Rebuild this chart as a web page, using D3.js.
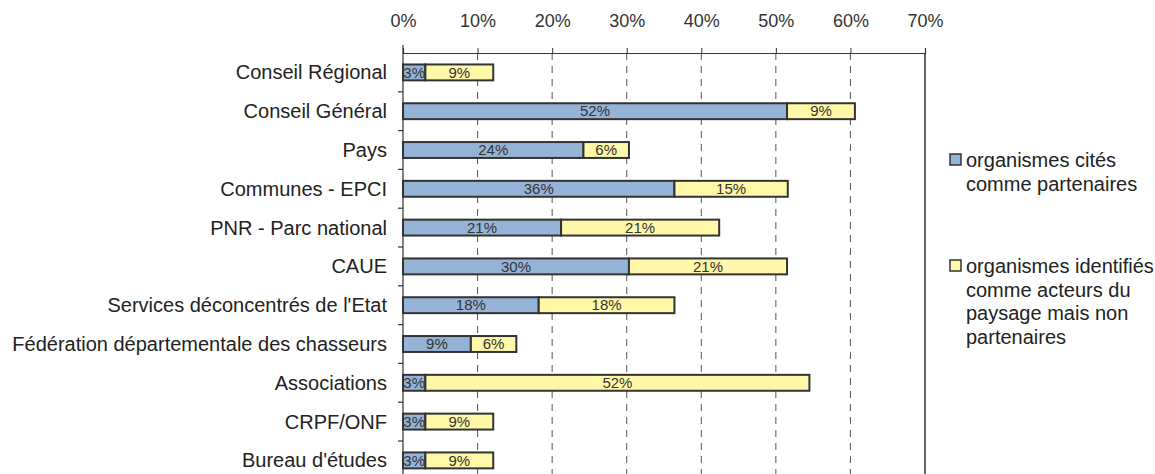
<!DOCTYPE html>
<html>
<head>
<meta charset="utf-8">
<script src="https://cdn.jsdelivr.net/npm/d3@7"></script>
<style>
  html, body { margin: 0; padding: 0; background: #fff; }
  svg { display: block; font-family: "Liberation Sans", Arial, sans-serif; }
</style>
</head>
<body>
<svg id="chart" width="1155" height="474"></svg>
<script>
const categories = [
  "Conseil Régional",
  "Conseil Général",
  "Pays",
  "Communes - EPCI",
  "PNR - Parc national",
  "CAUE",
  "Services déconcentrés de l'Etat",
  "Fédération départementale des chasseurs",
  "Associations",
  "CRPF/ONF",
  "Bureau d'études"
];
const partenaires = [3.0, 51.5, 24.2, 36.4, 21.2, 30.3, 18.2, 9.1, 3.0, 3.0, 3.0];
const nonPartenaires = [9.1, 9.1, 6.1, 15.2, 21.2, 21.2, 18.2, 6.1, 51.5, 9.1, 9.1];
const seriesNames = [
  ["organismes cités", "comme partenaires"],
  ["organismes identifiés", "comme acteurs du", "paysage mais non", "partenaires"]
];
const tickValues = [0, 10, 20, 30, 40, 50, 60, 70];
const colors = ["#95b3d7", "#fff8a8"];

const svg = d3.select("#chart");
const x = d3.scaleLinear().domain([0, 70]).range([403, 925]);
const y = d3.scaleBand().domain(categories).range([53, 53 + 11 * 38.8]).paddingInner(0.59).paddingOuter(0.295);
const plotTop = 53, plotBottom = 474;

// gridlines
svg.append("g").selectAll("line").data(tickValues.filter(v => v > 0 && v < 70)).join("line")
  .attr("x1", d => x(d)).attr("x2", d => x(d))
  .attr("y1", plotTop).attr("y2", plotBottom)
  .attr("stroke", "#555").attr("stroke-width", 1)
  .attr("stroke-dasharray", "7,6");

// right border
svg.append("line").attr("x1", x(70)).attr("x2", x(70)).attr("y1", plotTop).attr("y2", plotBottom)
  .attr("stroke", "#333").attr("stroke-width", 1.5);

// top axis
const xAxis = d3.axisTop(x).tickValues(tickValues).tickFormat(d => d + "%").tickSize(5).tickPadding(21);
const gx = svg.append("g").attr("transform", `translate(0,${plotTop})`).call(xAxis);
gx.select(".domain").attr("stroke", "#333").attr("stroke-width", 1.2);
gx.selectAll(".tick line").attr("stroke", "#333");
gx.selectAll(".tick text").attr("font-size", 18).attr("fill", "#333")
  .attr("font-family", "Liberation Sans, Arial, sans-serif");

// left axis
const yBounds = categories.map((c, i) => y(c) - y.step() * y.paddingInner() / 2);
svg.append("line").attr("x1", x(0)).attr("x2", x(0)).attr("y1", plotTop - 8).attr("y2", plotBottom)
  .attr("stroke", "#333").attr("stroke-width", 1.2);
svg.append("g").selectAll("line").data(yBounds.slice(1).concat([yBounds[10] + y.step()])).join("line")
  .attr("x1", x(0) - 5).attr("x2", x(0)).attr("y1", d => d).attr("y2", d => d)
  .attr("stroke", "#333").attr("stroke-width", 1.2);

svg.append("g").selectAll("text").data(categories).join("text")
  .attr("x", 387).attr("y", d => y(d) + y.bandwidth() / 2)
  .attr("dy", "0.35em").attr("text-anchor", "end")
  .attr("font-size", 20).attr("fill", "#222").text(d => d);

// bars
const stacked = categories.map((c, i) => [
  { cat: c, s: 0, x0: 0, x1: partenaires[i], v: partenaires[i] },
  { cat: c, s: 1, x0: partenaires[i], x1: partenaires[i] + nonPartenaires[i], v: nonPartenaires[i] }
]).flat();

svg.append("g").selectAll("rect").data(stacked).join("rect")
  .attr("x", d => x(d.x0)).attr("width", d => x(d.x1) - x(d.x0))
  .attr("y", d => y(d.cat)).attr("height", y.bandwidth())
  .attr("fill", d => colors[d.s]).attr("stroke", "#333").attr("stroke-width", 2);

svg.append("g").selectAll("text").data(stacked).join("text")
  .attr("x", d => (x(d.x0) + x(d.x1)) / 2).attr("y", d => y(d.cat) + y.bandwidth() / 2)
  .attr("dy", "0.35em").attr("text-anchor", "middle")
  .attr("font-size", 15).attr("fill", "#333")
  .text(d => Math.round(d.v) + "%");

// legend
const legendPos = [{ sy: 154, ty: 167 }, { sy: 260, ty: 273 }];
seriesNames.forEach((lines, i) => {
  svg.append("rect").attr("x", 950).attr("y", legendPos[i].sy).attr("width", 11).attr("height", 11)
    .attr("fill", colors[i]).attr("stroke", "#333").attr("stroke-width", 1.5);
  svg.append("g").selectAll("text").data(lines).join("text")
    .attr("x", 966).attr("y", (d, j) => legendPos[i].ty + j * 23.5)
    .attr("font-size", 20).attr("fill", "#222").text(d => d);
});
</script>
</body>
</html>
